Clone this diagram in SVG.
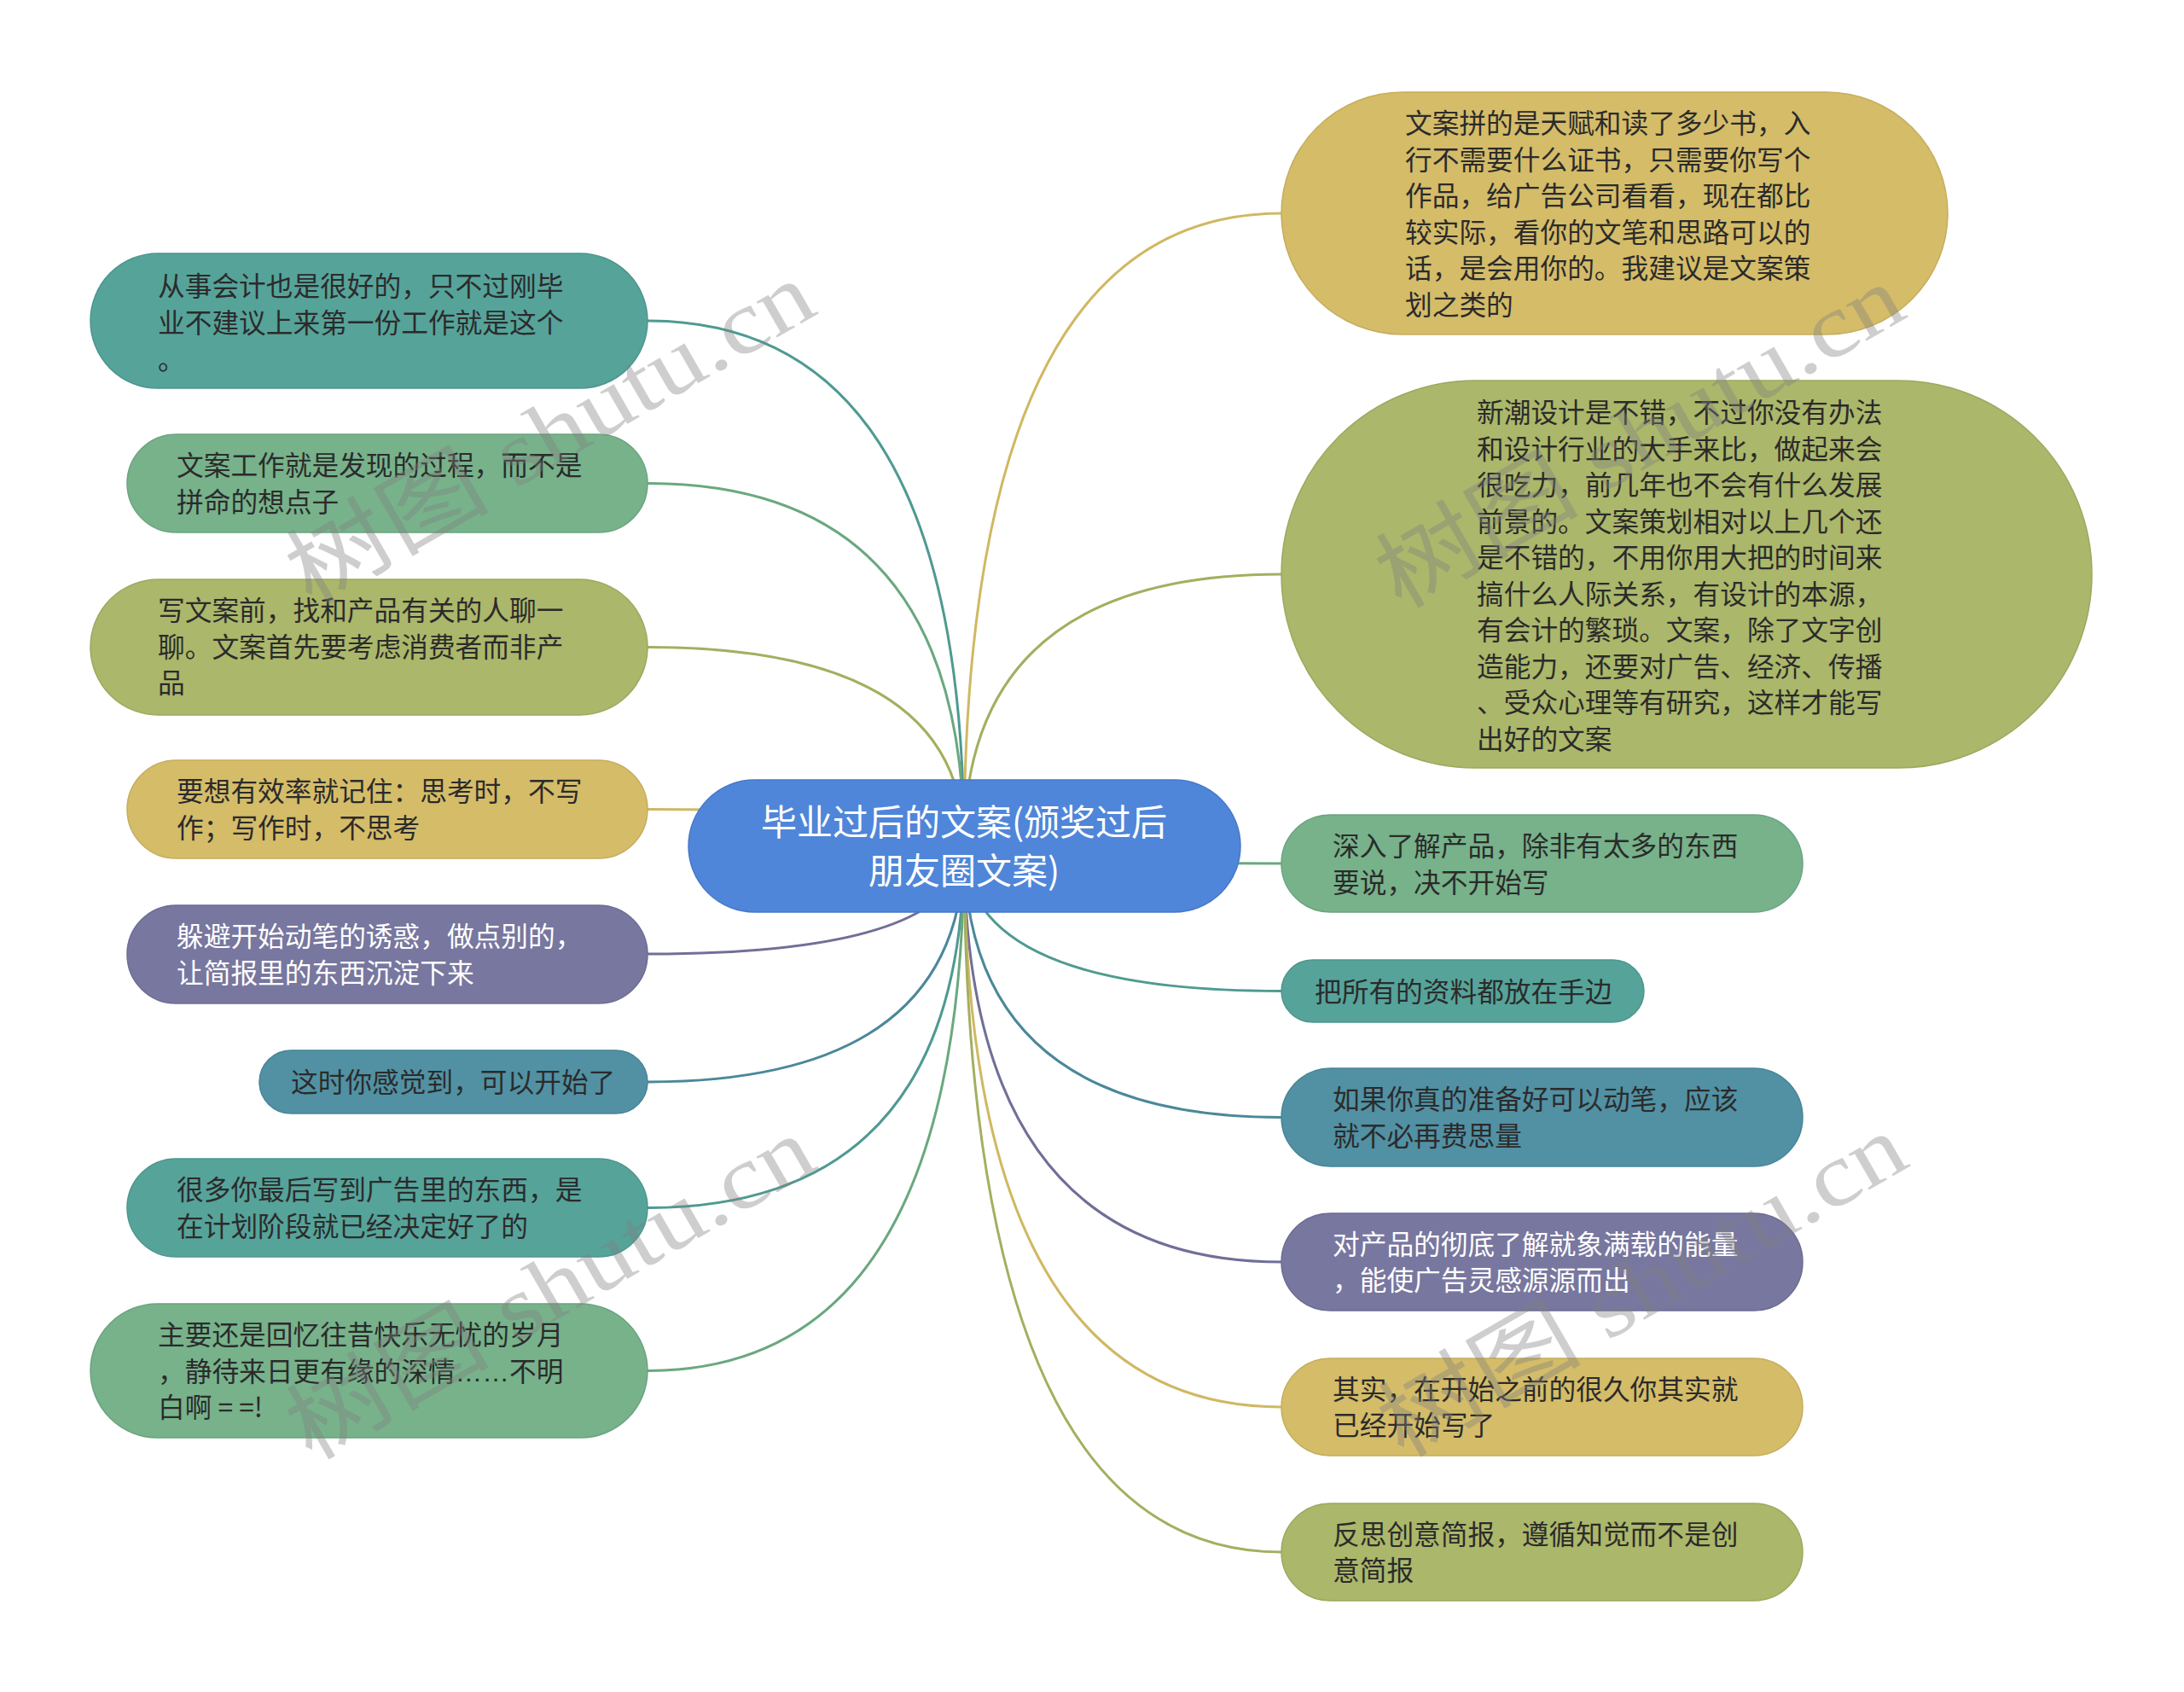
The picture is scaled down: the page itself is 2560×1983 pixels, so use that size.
<svg xmlns="http://www.w3.org/2000/svg" width="2560" height="1983" viewBox="0 0 2560 1983">
<style>
  .t { font-family: "Noto Sans CJK SC", "Noto Sans", sans-serif; font-size: 31.7px; fill: #2b2b2b; }
  .tw { fill: #ffffff; }
  .el { font-family: "Liberation Sans", sans-serif; }
  .ct { font-family: "Noto Sans CJK SC", "Noto Sans", sans-serif; font-size: 42px; fill: #ffffff; }
  .link { fill: none; stroke-width: 3; }
  .teal { fill: #56a39a; stroke: #4c968d; stroke-width: 1.5; }
  .green { fill: #77b28b; stroke: #6aa47e; stroke-width: 1.5; }
  .olive { fill: #abb76a; stroke: #9ca95e; stroke-width: 1.5; }
  .yellow { fill: #d4bc69; stroke: #c5ad5c; stroke-width: 1.5; }
  .purple { fill: #78779f; stroke: #6c6b93; stroke-width: 1.5; }
  .blue { fill: #5191a3; stroke: #478596; stroke-width: 1.5; }
  .wm { font-family: "Liberation Serif", "Noto Sans CJK SC", serif; font-size: 105px; fill: #808080; opacity: 0.38; }
</style>
<rect width="2560" height="1983" fill="#ffffff"/>
<g id="connectors">
  <path class="link" stroke="#4f9a91" d="M1130 991 Q1130 376 759 376"/>
  <path class="link" stroke="#6aa87f" d="M1130 991 Q1130 566.5 759 566.5"/>
  <path class="link" stroke="#a3af5f" d="M1130 991 Q1130 758.5 759 758.5"/>
  <path class="link" stroke="#d0b862" d="M1130 991 Q1130 948.6 759 948.6"/>
  <path class="link" stroke="#706f98" d="M1130 991 Q1130 1118 759 1118"/>
  <path class="link" stroke="#4a889a" d="M1130 991 Q1130 1268 759 1268"/>
  <path class="link" stroke="#4f9a91" d="M1130 991 Q1130 1415.5 759 1415.5"/>
  <path class="link" stroke="#6aa87f" d="M1130 991 Q1130 1606.5 759 1606.5"/>
  <path class="link" stroke="#d0b862" d="M1130 991 Q1130 250 1502 250"/>
  <path class="link" stroke="#a3af5f" d="M1130 991 Q1130 673 1502 673"/>
  <path class="link" stroke="#6aa87f" d="M1130 991 Q1130 1012 1502 1012"/>
  <path class="link" stroke="#4f9a91" d="M1130 991 Q1130 1161.5 1502 1161.5"/>
  <path class="link" stroke="#4a889a" d="M1130 991 Q1130 1309.5 1502 1309.5"/>
  <path class="link" stroke="#706f98" d="M1130 991 Q1130 1479 1502 1479"/>
  <path class="link" stroke="#d0b862" d="M1130 991 Q1130 1649 1502 1649"/>
  <path class="link" stroke="#a3af5f" d="M1130 991 Q1130 1819 1502 1819"/>
</g>
<g id="center">
  <rect x="807" y="914" width="647" height="155" rx="77.5" fill="#4f86d9" stroke="#4679c9" stroke-width="1.5"/>
  <text class="ct" x="1130" y="979" text-anchor="middle">毕业过后的文案(颁奖过后</text>
  <text class="ct" x="1130" y="1036" text-anchor="middle">朋友圈文案)</text>
</g>
<g id="L1">
  <rect class="teal" x="106" y="297" width="653" height="158" rx="79"/>
  <text class="t" x="185" y="347">从事会计也是很好的，只不过刚毕</text>
  <text class="t" x="185" y="390">业不建议上来第一份工作就是这个</text>
  <text class="t" x="185" y="433">。</text>
</g>
<g id="L2">
  <rect class="green" x="149" y="509" width="610" height="115" rx="57.5"/>
  <text class="t" x="207" y="557">文案工作就是发现的过程，而不是</text>
  <text class="t" x="207" y="600">拼命的想点子</text>
</g>
<g id="L3">
  <rect class="olive" x="106" y="679" width="653" height="159" rx="79.5"/>
  <text class="t" x="185" y="727">写文案前，找和产品有关的人聊一</text>
  <text class="t" x="185" y="770">聊。文案首先要考虑消费者而非产</text>
  <text class="t" x="185" y="812">品</text>
</g>
<g id="L4">
  <rect class="yellow" x="149" y="891" width="610" height="115" rx="57.5"/>
  <text class="t" x="207" y="939">要想有效率就记住：思考时，不写</text>
  <text class="t" x="207" y="982">作；写作时，不思考</text>
</g>
<g id="L5">
  <rect class="purple" x="149" y="1061" width="610" height="115" rx="57.5"/>
  <text class="t tw" x="207" y="1109">躲避开始动笔的诱惑，做点别的，</text>
  <text class="t tw" x="207" y="1152">让简报里的东西沉淀下来</text>
</g>
<g id="L6">
  <rect class="blue" x="304" y="1231" width="455" height="74" rx="37"/>
  <text class="t" x="341" y="1280">这时你感觉到，可以开始了</text>
</g>
<g id="L7">
  <rect class="teal" x="149" y="1358" width="610" height="115" rx="57.5"/>
  <text class="t" x="207" y="1406">很多你最后写到广告里的东西，是</text>
  <text class="t" x="207" y="1449">在计划阶段就已经决定好了的</text>
</g>
<g id="L8">
  <rect class="green" x="106" y="1528" width="653" height="157" rx="78.5"/>
  <text class="t" x="185" y="1576">主要还是回忆往昔快乐无忧的岁月</text>
  <text class="t" x="185" y="1619">，静待来日更有缘的深情<tspan class="el">……</tspan>不明</text>
  <text class="t" x="185" y="1661">白啊 = =!</text>
</g>
<g id="R1">
  <rect class="yellow" x="1502" y="108" width="781" height="284" rx="142"/>
  <text class="t" x="1647" y="156">文案拼的是天赋和读了多少书，入</text>
  <text class="t" x="1647" y="198.5">行不需要什么证书，只需要你写个</text>
  <text class="t" x="1647" y="241">作品，给广告公司看看，现在都比</text>
  <text class="t" x="1647" y="283.5">较实际，看你的文笔和思路可以的</text>
  <text class="t" x="1647" y="326">话，是会用你的。我建议是文案策</text>
  <text class="t" x="1647" y="368.5">划之类的</text>
</g>
<g id="R2">
  <rect class="olive" x="1502" y="446" width="950" height="454" rx="227"/>
  <text class="t" x="1731" y="495">新潮设计是不错，不过你没有办法</text>
  <text class="t" x="1731" y="537.5">和设计行业的大手来比，做起来会</text>
  <text class="t" x="1731" y="580">很吃力，前几年也不会有什么发展</text>
  <text class="t" x="1731" y="622.5">前景的。文案策划相对以上几个还</text>
  <text class="t" x="1731" y="665">是不错的，不用你用大把的时间来</text>
  <text class="t" x="1731" y="707.5">搞什么人际关系，有设计的本源，</text>
  <text class="t" x="1731" y="750">有会计的繁琐。文案，除了文字创</text>
  <text class="t" x="1731" y="792.5">造能力，还要对广告、经济、传播</text>
  <text class="t" x="1731" y="835">、受众心理等有研究，这样才能写</text>
  <text class="t" x="1731" y="877.5">出好的文案</text>
</g>
<g id="R3">
  <rect class="green" x="1502" y="955" width="611" height="114" rx="57"/>
  <text class="t" x="1562" y="1003">深入了解产品，除非有太多的东西</text>
  <text class="t" x="1562" y="1046">要说，决不开始写</text>
</g>
<g id="R4">
  <rect class="teal" x="1502" y="1125" width="425" height="73" rx="36.5"/>
  <text class="t" x="1541" y="1174">把所有的资料都放在手边</text>
</g>
<g id="R5">
  <rect class="blue" x="1502" y="1252" width="611" height="115" rx="57.5"/>
  <text class="t" x="1562" y="1300">如果你真的准备好可以动笔，应该</text>
  <text class="t" x="1562" y="1343">就不必再费思量</text>
</g>
<g id="R6">
  <rect class="purple" x="1502" y="1422" width="611" height="114" rx="57"/>
  <text class="t tw" x="1562" y="1470">对产品的彻底了解就象满载的能量</text>
  <text class="t tw" x="1562" y="1512">，能使广告灵感源源而出</text>
</g>
<g id="R7">
  <rect class="yellow" x="1502" y="1592" width="611" height="114" rx="57"/>
  <text class="t" x="1562" y="1640">其实，在开始之前的很久你其实就</text>
  <text class="t" x="1562" y="1682">已经开始写了</text>
</g>
<g id="R8">
  <rect class="olive" x="1502" y="1762" width="611" height="114" rx="57"/>
  <text class="t" x="1562" y="1810">反思创意简报，遵循知觉而不是创</text>
  <text class="t" x="1562" y="1852">意简报</text>
</g>
<g id="watermarks">
  <text class="wm" transform="translate(645 508) rotate(-30)" text-anchor="middle" dominant-baseline="central" textLength="690" lengthAdjust="spacingAndGlyphs">树图 shutu.cn</text>
  <text class="wm" transform="translate(1922 512) rotate(-30)" text-anchor="middle" dominant-baseline="central" textLength="690" lengthAdjust="spacingAndGlyphs">树图 shutu.cn</text>
  <text class="wm" transform="translate(645 1510) rotate(-30)" text-anchor="middle" dominant-baseline="central" textLength="690" lengthAdjust="spacingAndGlyphs">树图 shutu.cn</text>
  <text class="wm" transform="translate(1925 1507) rotate(-30)" text-anchor="middle" dominant-baseline="central" textLength="690" lengthAdjust="spacingAndGlyphs">树图 shutu.cn</text>
</g>
</svg>
